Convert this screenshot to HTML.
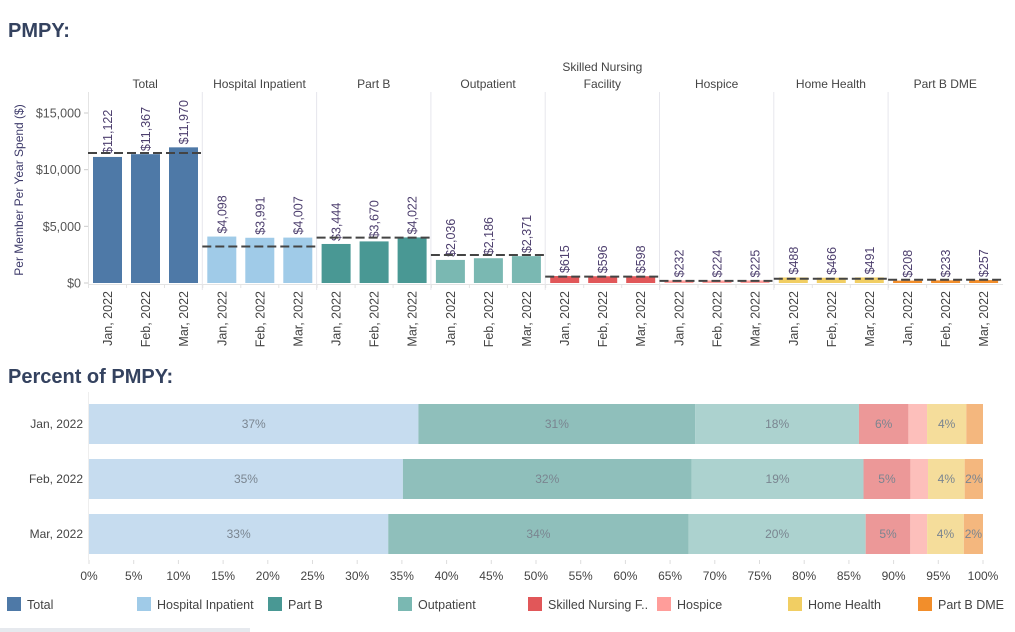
<!DOCTYPE html>
<html><head><meta charset="utf-8">
<style>
html,body{margin:0;padding:0;background:#fff;}
svg{display:block;font-family:"Liberation Sans","DejaVu Sans",sans-serif;}
</style></head>
<body>
<svg id="chart" width="1015" height="632" viewBox="0 0 1015 632" xmlns="http://www.w3.org/2000/svg">
<rect x="0" y="0" width="1015" height="632" fill="#fff"/>
<text x="8" y="37" font-size="20" font-weight="bold" fill="#34425f">PMPY:</text>
<text x="8" y="383" font-size="20" font-weight="bold" fill="#34425f">Percent of PMPY:</text>
<text transform="translate(23,190) rotate(-90)" text-anchor="middle" font-size="12" fill="#3d3a6a">Per Member Per Year Spend ($)</text>
<g id="topchart"></g>
<g id="bottom"></g>
<g id="legend"></g>
<rect x="0" y="628" width="250" height="4" fill="#e6e9ee"/>
</svg>
<script>
const categories = ["Total","Hospital Inpatient","Part B","Outpatient","Skilled Nursing Facility","Hospice","Home Health","Part B DME"];
const months = ["Jan, 2022","Feb, 2022","Mar, 2022"];
const janValues = [11122,4098,3444,2036,615,232,488,208];
const febValues = [11367,3991,3670,2186,596,224,466,233];
const marValues = [11970,4007,4022,2371,598,225,491,257];
const benchmarks = [11470,3220,4000,2470,560,190,380,290];
const yTicks = [0,5000,10000,15000];
const yTickLabels = ["$0","$5,000","$10,000","$15,000"];
const xTicks = [0,5,10,15,20,25,30,35,40,45,50,55,60,65,70,75,80,85,90,95,100];
const colors = ["#4e79a7","#a0cbe8","#499894","#7ab8b2","#e15759","#ff9d9a","#f1ce63","#f28e2b"];
const lightColors = ["#4e79a7","#c6dcef","#8fbfbb","#acd2cf","#ec9898","#fdbfbb","#f5dd9b","#f4b77e"];
const showPctLabel = [true,true,true,true,true,false,true,true];

const NS="http://www.w3.org/2000/svg";
function mk(parent,tag,attrs,txt){const e=document.createElementNS(NS,tag);for(const k in attrs)e.setAttribute(k,attrs[k]);if(txt!==undefined)e.textContent=txt;parent.appendChild(e);return e;}
const monthValues=[janValues,febValues,marValues];

const y0=283, yScale=v=>y0-v*(170/15000);
const panelX0=88, panelW=114.3;
const topG=document.getElementById('topchart');
yTicks.forEach((t,i)=>{
  const yy=yScale(t);
  const l=mk(topG,'line',{x1:84,x2:88,y1:yy,y2:yy,stroke:'#ccc'});
  
  
  const tx=mk(topG,'text',{x:81,y:yy+4.5,'text-anchor':'end','font-size':12.5,fill:'#555'},yTickLabels[i]);
  
  
});
const ax=mk(topG,'line',{x1:88,x2:1003,y1:284.5,y2:284.5,stroke:'#e4e4e4'});


const yax=mk(topG,'line',{x1:88.5,x2:88.5,y1:92,y2:285,stroke:'#e4e4e4'});


categories.forEach((c,ci)=>{
  const px=panelX0+ci*panelW;
  if(ci>0){
    const s=mk(topG,'line',{x1:px,x2:px,y1:92,y2:290,stroke:'#e6e6ec'});
    
    
  }
  const hx=px+panelW/2;
  let h;
  if(c==="Skilled Nursing Facility"){
    h=mk(topG,'text',{x:hx,y:71,'text-anchor':'middle','font-size':12,fill:'#444'});
    mk(h,'tspan',{x:hx,y:71},'Skilled Nursing');
    mk(h,'tspan',{x:hx,y:88},'Facility');
  } else h=mk(topG,'text',{x:hx,y:88,'text-anchor':'middle','font-size':12,fill:'#444'},c);
  
  
  months.forEach((m,mi)=>{
    const v=monthValues[mi][ci];
    const bx=px+5+mi*38, bw=29, cx=bx+bw/2;
    const r=mk(topG,'rect',{x:bx,y:yScale(v),width:bw,height:y0-yScale(v),fill:colors[ci]});
    
    
    const vl=mk(topG,'text',{transform:`translate(${cx+4.5},${yScale(v)-3}) rotate(-90)`,'font-size':12.5,fill:'#4d3f6e'},'$'+v.toLocaleString('en-US'));
    
    
    const xl=mk(topG,'text',{transform:`translate(${cx+4.5},291) rotate(-90)`,'text-anchor':'end','font-size':12.5,fill:'#444'},m);
    
    
    const tk=mk(topG,'line',{x1:px+mi*38+0.5,x2:px+mi*38+0.5,y1:284,y2:288,stroke:'#e4e4e4'});
    
    
  });
  const by=yScale(benchmarks[ci]);
  const d=mk(topG,'line',{x1:px,x2:px+panelW,y1:by,y2:by,stroke:'#444','stroke-width':2,'stroke-dasharray':'9,4'});
  
  
});

const bot=document.getElementById('bottom');
const xS=p=>89+p*(894/100);
const rowY=[404,459,514];
xTicks.forEach(t=>{
  const tk=mk(bot,'line',{x1:xS(t),x2:xS(t),y1:560,y2:564,stroke:'#ddd'});
  
  
  const tl=mk(bot,'text',{x:xS(t),y:580,'text-anchor':'middle','font-size':12,fill:'#444'},t+'%');
  
  
});
const bax=mk(bot,'line',{x1:88.5,x2:88.5,y1:392,y2:560,stroke:'#eee'});


months.forEach((m,mi)=>{
  const vals=monthValues[mi].slice(1);
  const sum=vals.reduce((a,b)=>a+b,0);
  const ry=rowY[mi];
  const ml=mk(bot,'text',{x:83,y:ry+24,'text-anchor':'end','font-size':12,fill:'#444'},m);
  
  
  let acc=0;
  vals.forEach((v,k)=>{
    const ci=k+1, p=v/sum*100;
    const x1=xS(acc), x2=xS(acc+p);
    const r=mk(bot,'rect',{x:x1,y:ry,width:x2-x1,height:40,fill:lightColors[ci]});
    
    
    if(showPctLabel[ci] && p>=1.95){
      const t=mk(bot,'text',{x:(x1+x2)/2,y:ry+24,'text-anchor':'middle','font-size':12,fill:'#7a8590'},Math.round(p)+'%');
      
      
    }
    acc+=p;
  });
});

const leg=document.getElementById('legend');
const legX=[7,137,268,398,528,657,788,918];
const legNames=["Total","Hospital Inpatient","Part B","Outpatient","Skilled Nursing F..","Hospice","Home Health","Part B DME"];
legNames.forEach((n,i)=>{
  const g=mk(leg,'g',{});
  
  
  mk(g,'rect',{x:legX[i],y:597,width:14,height:14,fill:colors[i]});
  mk(g,'text',{x:legX[i]+20,y:609,'font-size':12.5,fill:'#444'},n);
});
</script>
</body></html>
